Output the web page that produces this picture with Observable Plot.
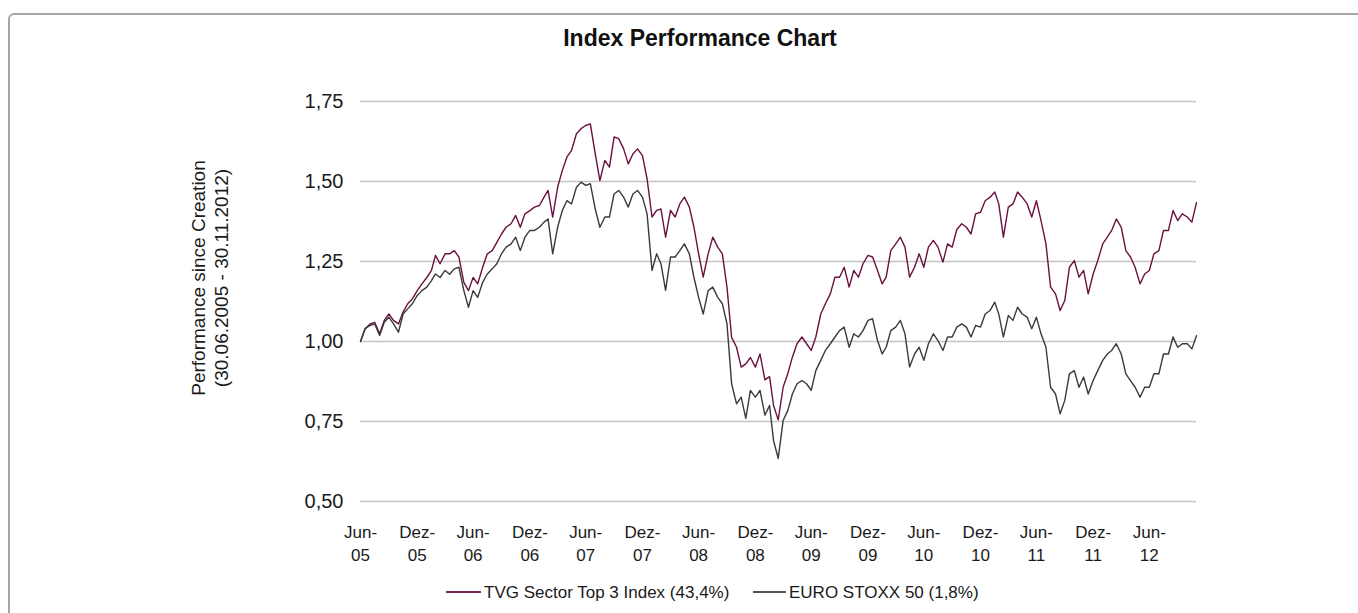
<!DOCTYPE html>
<html><head><meta charset="utf-8">
<script src="https://cdn.jsdelivr.net/npm/d3@7"></script>
<script src="https://cdn.jsdelivr.net/npm/@observablehq/plot@0.6"></script>
<style>
body{margin:0;background:#fff;font-family:"Liberation Sans",Arial,sans-serif;overflow:hidden;width:1358px;height:613px;position:relative}
#frame{position:absolute;left:8px;top:13px;width:1400px;height:700px;border:2px solid #a6a6a6;border-radius:6px;box-sizing:border-box}
#title{position:absolute;left:0;width:1400px;top:27px;text-align:center;font-weight:bold;font-size:23px;line-height:23px;color:#111}
#chart{position:absolute;left:0;top:0}
#ytitle{position:absolute;left:10px;top:255px;width:400px;height:46px;text-align:center;font-size:19px;line-height:23px;color:#1a1a1a;transform:rotate(-90deg);white-space:nowrap}
.lg-line{position:absolute;height:0;border-top:2px solid}
.lg-text{position:absolute;font-size:17px;line-height:17px;color:#1a1a1a;white-space:nowrap}
</style></head><body>
<div id="frame"></div>
<div id="title">Index Performance Chart</div>
<div id="chart"></div>
<div id="ytitle">Performance since Creation<br>(30.06.2005 - 30.11.2012)</div>
<div id="legend"></div>
<script>
// Semi-monthly readings (end of month / 15th), 30.06.2005 .. 30.11.2012
const tvgSeries = [
1.000,1.040,1.055,1.060,1.024,1.066,1.086,1.066,1.055,1.092,
1.118,1.133,1.159,1.180,1.200,1.222,1.269,1.243,1.274,1.274,
1.284,1.264,1.185,1.159,1.200,1.180,1.232,1.274,1.284,1.310,
1.336,1.357,1.368,1.394,1.357,1.399,1.409,1.420,1.425,1.451,
1.472,1.389,1.482,1.534,1.576,1.597,1.649,1.665,1.675,1.680,
1.586,1.503,1.566,1.545,1.639,1.634,1.602,1.555,1.586,1.602,
1.581,1.508,1.389,1.410,1.414,1.326,1.410,1.389,1.430,1.451,
1.420,1.357,1.274,1.201,1.274,1.326,1.295,1.274,1.170,1.013,
0.982,0.920,0.930,0.950,0.920,0.961,0.880,0.890,0.800,0.755,
0.857,0.899,0.951,0.993,1.014,0.993,0.972,1.014,1.086,1.118,
1.149,1.201,1.201,1.232,1.170,1.222,1.201,1.243,1.269,1.264,
1.222,1.180,1.201,1.284,1.305,1.326,1.295,1.201,1.232,1.274,
1.232,1.295,1.316,1.295,1.248,1.305,1.295,1.350,1.368,1.357,
1.336,1.399,1.404,1.440,1.451,1.467,1.430,1.326,1.420,1.430,
1.467,1.451,1.430,1.389,1.440,1.378,1.305,1.170,1.149,1.097,
1.128,1.232,1.253,1.201,1.222,1.149,1.211,1.253,1.305,1.326,
1.347,1.383,1.357,1.284,1.264,1.232,1.180,1.211,1.222,1.274,
1.284,1.347,1.347,1.409,1.378,1.399,1.389,1.373,1.434];
const euroStoxxSeries = [
1.000,1.040,1.050,1.055,1.019,1.060,1.076,1.055,1.029,1.086,
1.102,1.118,1.144,1.159,1.170,1.190,1.211,1.200,1.222,1.210,
1.227,1.232,1.159,1.107,1.159,1.138,1.185,1.211,1.227,1.243,
1.274,1.295,1.305,1.326,1.284,1.326,1.347,1.347,1.357,1.373,
1.383,1.274,1.357,1.409,1.440,1.430,1.482,1.498,1.488,1.493,
1.414,1.357,1.389,1.389,1.461,1.472,1.451,1.420,1.461,1.472,
1.451,1.399,1.222,1.274,1.243,1.160,1.264,1.264,1.284,1.305,
1.274,1.200,1.138,1.086,1.159,1.170,1.138,1.118,1.055,0.868,
0.805,0.826,0.760,0.847,0.826,0.847,0.770,0.800,0.690,0.635,
0.753,0.784,0.836,0.868,0.878,0.868,0.847,0.909,0.941,0.972,
0.993,1.014,1.034,1.045,0.982,1.024,1.014,1.034,1.066,1.071,
1.003,0.961,0.982,1.034,1.045,1.066,1.024,0.920,0.961,0.982,
0.941,0.993,1.024,1.003,0.972,1.014,1.014,1.045,1.055,1.045,
1.014,1.050,1.045,1.086,1.097,1.123,1.086,1.014,1.081,1.066,
1.107,1.086,1.076,1.040,1.076,1.024,0.982,0.857,0.836,0.774,
0.816,0.899,0.909,0.857,0.889,0.836,0.878,0.909,0.941,0.961,
0.972,0.993,0.961,0.899,0.878,0.857,0.826,0.857,0.857,0.899,
0.899,0.961,0.961,1.014,0.982,0.993,0.993,0.977,1.018];
const seriesNames = ["TVG Sector Top 3 Index (43,4%)", "EURO STOXX 50 (1,8%)"];
const seriesColors = ["#6b1040", "#3a3a3a"];
const yTicks = [0.5, 0.75, 1.0, 1.25, 1.5, 1.75];
const xTickDates = ["2005-06-30","2005-12-31","2006-06-30","2006-12-31","2007-06-30","2007-12-31","2008-06-30","2008-12-31","2009-06-30","2009-12-31","2010-06-30","2010-12-31","2011-06-30","2011-12-31","2012-06-30"];
const xTickLabels = ["Jun-\n05","Dez-\n05","Jun-\n06","Dez-\n06","Jun-\n07","Dez-\n07","Jun-\n08","Dez-\n08","Jun-\n09","Dez-\n09","Jun-\n10","Dez-\n10","Jun-\n11","Dez-\n11","Jun-\n12"];
const startDate = "2005-06-30", endDate = "2012-11-30";

const sampleDate = i => new Date(Date.UTC(2005, 6 + Math.floor(i / 2), i % 2 ? 15 : 0));
const tvgRows = tvgSeries.map((v, i) => ({date: sampleDate(i), value: v}));
const euroRows = euroStoxxSeries.map((v, i) => ({date: sampleDate(i), value: v}));
const tickDates = xTickDates.map(s => new Date(s + "T00:00:00Z"));

const chart = Plot.plot({
  width: 1358, height: 560,
  marginLeft: 360, marginRight: 162, marginTop: 101, marginBottom: 59,
  style: {fontFamily: "'Liberation Sans', Arial, sans-serif", background: "transparent", color: "#1a1a1a", overflow: "visible"},
  x: {type: "utc", domain: [new Date(startDate + "T00:00:00Z"), new Date(endDate + "T00:00:00Z")], axis: null},
  y: {domain: [0.5, 1.75], axis: null},
  marks: [
    Plot.ruleY(yTicks, {stroke: "#c4c4c4", strokeWidth: 1.3}),
    Plot.axisY(yTicks, {tickSize: 0, tickPadding: 17, fontSize: 20, label: null, tickFormat: d => d.toFixed(2).replace(".", ",")}),
    Plot.text(tickDates, {x: d => d, frameAnchor: "bottom", text: (d, i) => xTickLabels[i], lineAnchor: "top", dy: 20.7, fontSize: 17, lineHeight: 1.33}),
    Plot.line(tvgRows, {x: "date", y: "value", stroke: seriesColors[0], strokeWidth: 1.4}),
    Plot.line(euroRows, {x: "date", y: "value", stroke: seriesColors[1], strokeWidth: 1.4})
  ]
});
document.getElementById("chart").appendChild(chart);

const legend = document.getElementById("legend");
const lgPos = [{line: 446, text: 484}, {line: 753, text: 789}];
seriesNames.forEach((name, i) => {
  const l = document.createElement("div");
  l.className = "lg-line";
  l.style.left = lgPos[i].line + "px"; l.style.top = "591px";
  l.style.width = (lgPos[i].text - lgPos[i].line - 3) + "px";
  l.style.borderTopColor = i === 0 ? "#7a2a52" : "#555";
  legend.appendChild(l);
  const t = document.createElement("div");
  t.className = "lg-text";
  t.style.left = lgPos[i].text + "px"; t.style.top = "584px";
  t.textContent = name;
  legend.appendChild(t);
});
</script>
</body></html>
